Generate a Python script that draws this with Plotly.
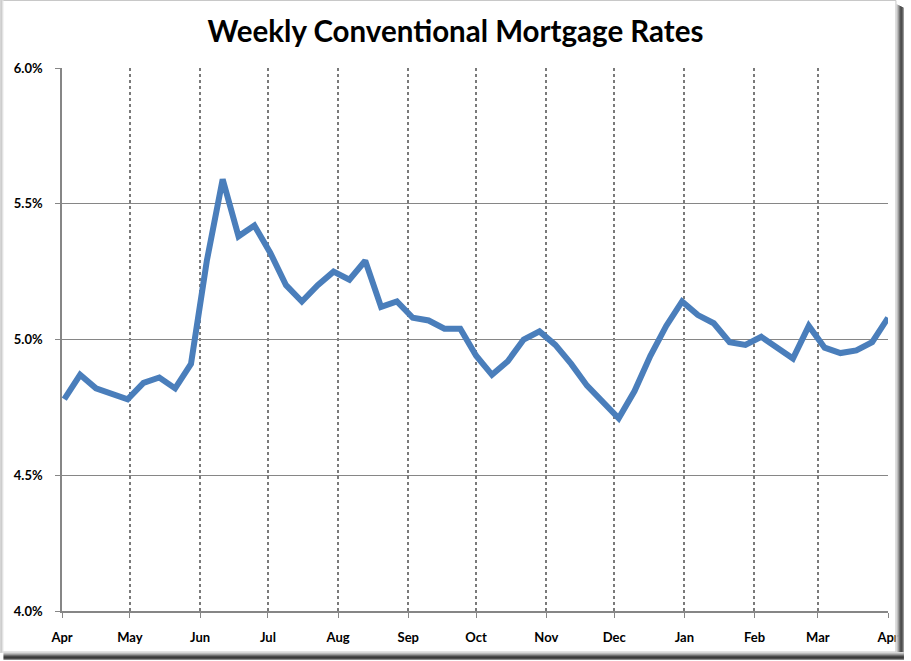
import plotly.graph_objects as go

dates = [
    "2009-04-02", "2009-04-09", "2009-04-16", "2009-04-23", "2009-04-30",
    "2009-05-07", "2009-05-14", "2009-05-21", "2009-05-28",
    "2009-06-04", "2009-06-11", "2009-06-18", "2009-06-25",
    "2009-07-02", "2009-07-09", "2009-07-16", "2009-07-23", "2009-07-30",
    "2009-08-06", "2009-08-13", "2009-08-20", "2009-08-27",
    "2009-09-03", "2009-09-10", "2009-09-17", "2009-09-24",
    "2009-10-01", "2009-10-08", "2009-10-15", "2009-10-22", "2009-10-29",
    "2009-11-05", "2009-11-12", "2009-11-19", "2009-11-25",
    "2009-12-03", "2009-12-10", "2009-12-17", "2009-12-24", "2009-12-31",
    "2010-01-07", "2010-01-14", "2010-01-21", "2010-01-28",
    "2010-02-04", "2010-02-11", "2010-02-18", "2010-02-25",
    "2010-03-04", "2010-03-11", "2010-03-18", "2010-03-25",
    "2010-04-01",
]
rates = [
    4.78, 4.87, 4.82, 4.80, 4.78,
    4.84, 4.86, 4.82, 4.91,
    5.29, 5.59, 5.38, 5.42,
    5.32, 5.20, 5.14, 5.20, 5.25,
    5.22, 5.29, 5.12, 5.14,
    5.08, 5.07, 5.04, 5.04,
    4.94, 4.87, 4.92, 5.00, 5.03,
    4.98, 4.91, 4.83, 4.78,
    4.71, 4.81, 4.94, 5.05, 5.14,
    5.09, 5.06, 4.99, 4.98,
    5.01, 4.97, 4.93, 5.05,
    4.97, 4.95, 4.96, 4.99,
    5.08,
]
month_ticks = [
    "2009-04-01", "2009-05-01", "2009-06-01", "2009-07-01", "2009-08-01",
    "2009-09-01", "2009-10-01", "2009-11-01", "2009-12-01", "2010-01-01",
    "2010-02-01", "2010-03-01", "2010-04-01",
]
month_labels = ["Apr", "May", "Jun", "Jul", "Aug", "Sep", "Oct", "Nov",
                "Dec", "Jan", "Feb", "Mar", "Apr"]
y_ticks = [4.0, 4.5, 5.0, 5.5, 6.0]
y_labels = ["4.0%", "4.5%", "5.0%", "5.5%", "6.0%"]

W, H = 911, 661
L, R, T, B = 62, 17, 68, 50
PW, PH = W - L - R, H - T - B


def px(x):
    return (x - L) / PW


def py(y):
    return (H - B - y) / PH


fig = go.Figure()
fig.add_trace(go.Scatter(
    x=dates, y=rates, mode="lines",
    line=dict(color="#4A7EBB", width=6),
    hoverinfo="skip", showlegend=False, cliponaxis=False,
))

font = dict(family="Lato, 'Open Sans', sans-serif", size=13, color="#000000", weight="bold")

fig.update_layout(
    width=W, height=H,
    margin=dict(l=L, r=R, t=T, b=B),
    paper_bgcolor="white", plot_bgcolor="white",
    title=dict(text="Weekly Conventional Mortgage Rates", x=0.5, xref="container",
               xanchor="center", y=1 - 32 / H, yanchor="middle",
               font=dict(family="Lato, 'Open Sans', sans-serif", size=29.5,
                         color="#000000", weight="bold")),
    xaxis=dict(
        type="date", range=["2009-04-01", "2010-04-01"],
        tickvals=month_ticks, ticktext=month_labels,
        showgrid=True, gridcolor="#7a7a7a", gridwidth=1.5, griddash="dot",
        showline=True, linecolor="#868686", linewidth=1.5,
        ticks="outside", ticklen=5, tickcolor="#868686",
        tickfont=font, ticklabelstandoff=9, zeroline=False,
    ),
    yaxis=dict(
        range=[4.0, 6.0], tickvals=y_ticks, ticktext=y_labels,
        showgrid=True, gridcolor="#868686", gridwidth=1.2,
        showline=True, linecolor="#868686", linewidth=1.5,
        ticks="outside", ticklen=5, tickcolor="#868686",
        tickfont=font, ticklabelstandoff=10, zeroline=False,
    ),
)

shapes = []
# outer frame
shapes.append(dict(type="rect", xref="paper", yref="paper",
                   x0=px(1.5), x1=px(902), y0=py(652), y1=py(0.5),
                   line=dict(color="#c8c8c8", width=1), layer="above"))
# left soft edge
for i, c in enumerate(["#b4b4b4", "#cfcfcf", "#e6e6e6"]):
    shapes.append(dict(type="line", xref="paper", yref="paper",
                       x0=px(0.5 + i), x1=px(0.5 + i), y0=py(0), y1=py(653),
                       line=dict(color=c, width=1), layer="above"))
shadow = ["#d9d9d9", "#bdbdbd", "#9a9a9a", "#6e6e6e", "#4a4a4a",
          "#3a3a3a", "#4e4e4e", "#8a8a8a"]
# right shadow
for i, c in enumerate(shadow):
    shapes.append(dict(type="line", xref="paper", yref="paper",
                       x0=px(902.5 + i), x1=px(902.5 + i), y0=py(4 + i * 0.5), y1=py(660),
                       line=dict(color=c, width=1), layer="above"))
# bottom shadow
for i, c in enumerate(shadow):
    shapes.append(dict(type="line", xref="paper", yref="paper",
                       x0=px(3), x1=px(910), y0=py(652.5 + i), y1=py(652.5 + i),
                       line=dict(color=c, width=1), layer="above"))
fig.update_layout(shapes=shapes)

fig.write_html("out.html", config={"responsive": False, "displayModeBar": False})
